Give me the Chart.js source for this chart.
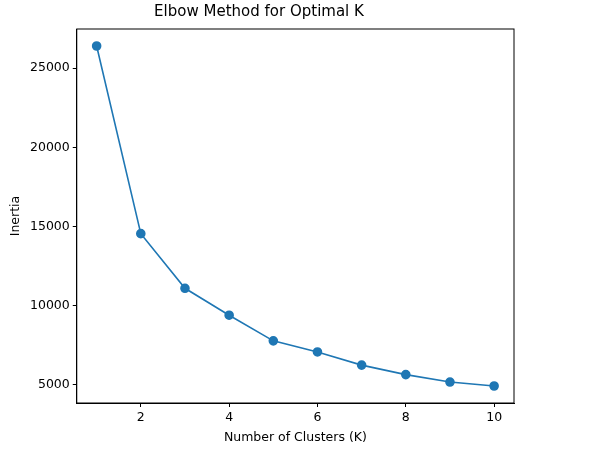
<!DOCTYPE html>
<html>
<head>
<meta charset="utf-8">
<script src="https://cdn.jsdelivr.net/npm/chart.js@4"></script>
<style>
  html, body { margin: 0; padding: 0; background: #fff; }
  #wrap { width: 589px; height: 455px; }
</style>
</head>
<body>
<div id="wrap"><canvas id="chart"></canvas></div>
<script>
const kValues = [1, 2, 3, 4, 5, 6, 7, 8, 9, 10];
const inertia = [26400, 14550, 11100, 9400, 7780, 7080, 6250, 5650, 5180, 4930];
const xTicks = [2, 4, 6, 8, 10];
const yTicks = [5000, 10000, 15000, 20000, 25000];

const font = { family: "DejaVu Sans", size: 12.5 };
const black = "#000";
const tickGrid = { display: true, drawOnChartArea: false, drawTicks: true, tickLength: 4, color: black };

new Chart(document.getElementById("chart"), {
    type: "line",
    data: {
        datasets: [{
            data: kValues.map((k, i) => ({ x: k, y: inertia[i] })),
            borderColor: "#1f77b4",
            backgroundColor: "#1f77b4",
            borderWidth: 1.6,
            pointRadius: 4,
            pointHoverRadius: 4,
            tension: 0
        }]
    },
    options: {
        responsive: true,
        maintainAspectRatio: false,
        animation: false,
        layout: { padding: { left: 4, right: 75, top: 0, bottom: 6 } },
        plugins: {
            legend: { display: false },
            tooltip: { enabled: false },
            title: {
                display: true,
                text: "Elbow Method for Optimal K",
                color: black,
                font: { family: "DejaVu Sans", size: 15, weight: "normal" },
                padding: { top: 3, bottom: 8 }
            }
        },
        scales: {
            x: {
                type: "linear",
                min: 0.55,
                max: 10.45,
                afterBuildTicks: ax => { ax.ticks = xTicks.map(v => ({ value: v })); },
                grid: tickGrid,
                border: { color: black, width: 1 },
                ticks: { color: black, font, padding: 3, callback: v => String(v) },
                title: { display: true, text: "Number of Clusters (K)", color: black, font, padding: { top: 2 } }
            },
            y: {
                min: 3857,
                max: 27473,
                afterBuildTicks: ax => { ax.ticks = yTicks.map(v => ({ value: v })); },
                grid: tickGrid,
                border: { color: black, width: 1 },
                ticks: { color: black, font, padding: 3, callback: v => String(v) },
                title: { display: true, text: "Inertia", color: black, font, padding: { bottom: 4 } }
            }
        }
    },
    plugins: [{
        id: "frame",
        afterDraw(c) {
            const { ctx, chartArea: a } = c;
            ctx.save();
            ctx.strokeStyle = black;
            ctx.lineWidth = 1;
            ctx.strokeRect(a.left, a.top, a.right - a.left, a.bottom - a.top);
            ctx.restore();
        }
    }]
});
</script>
</body>
</html>
